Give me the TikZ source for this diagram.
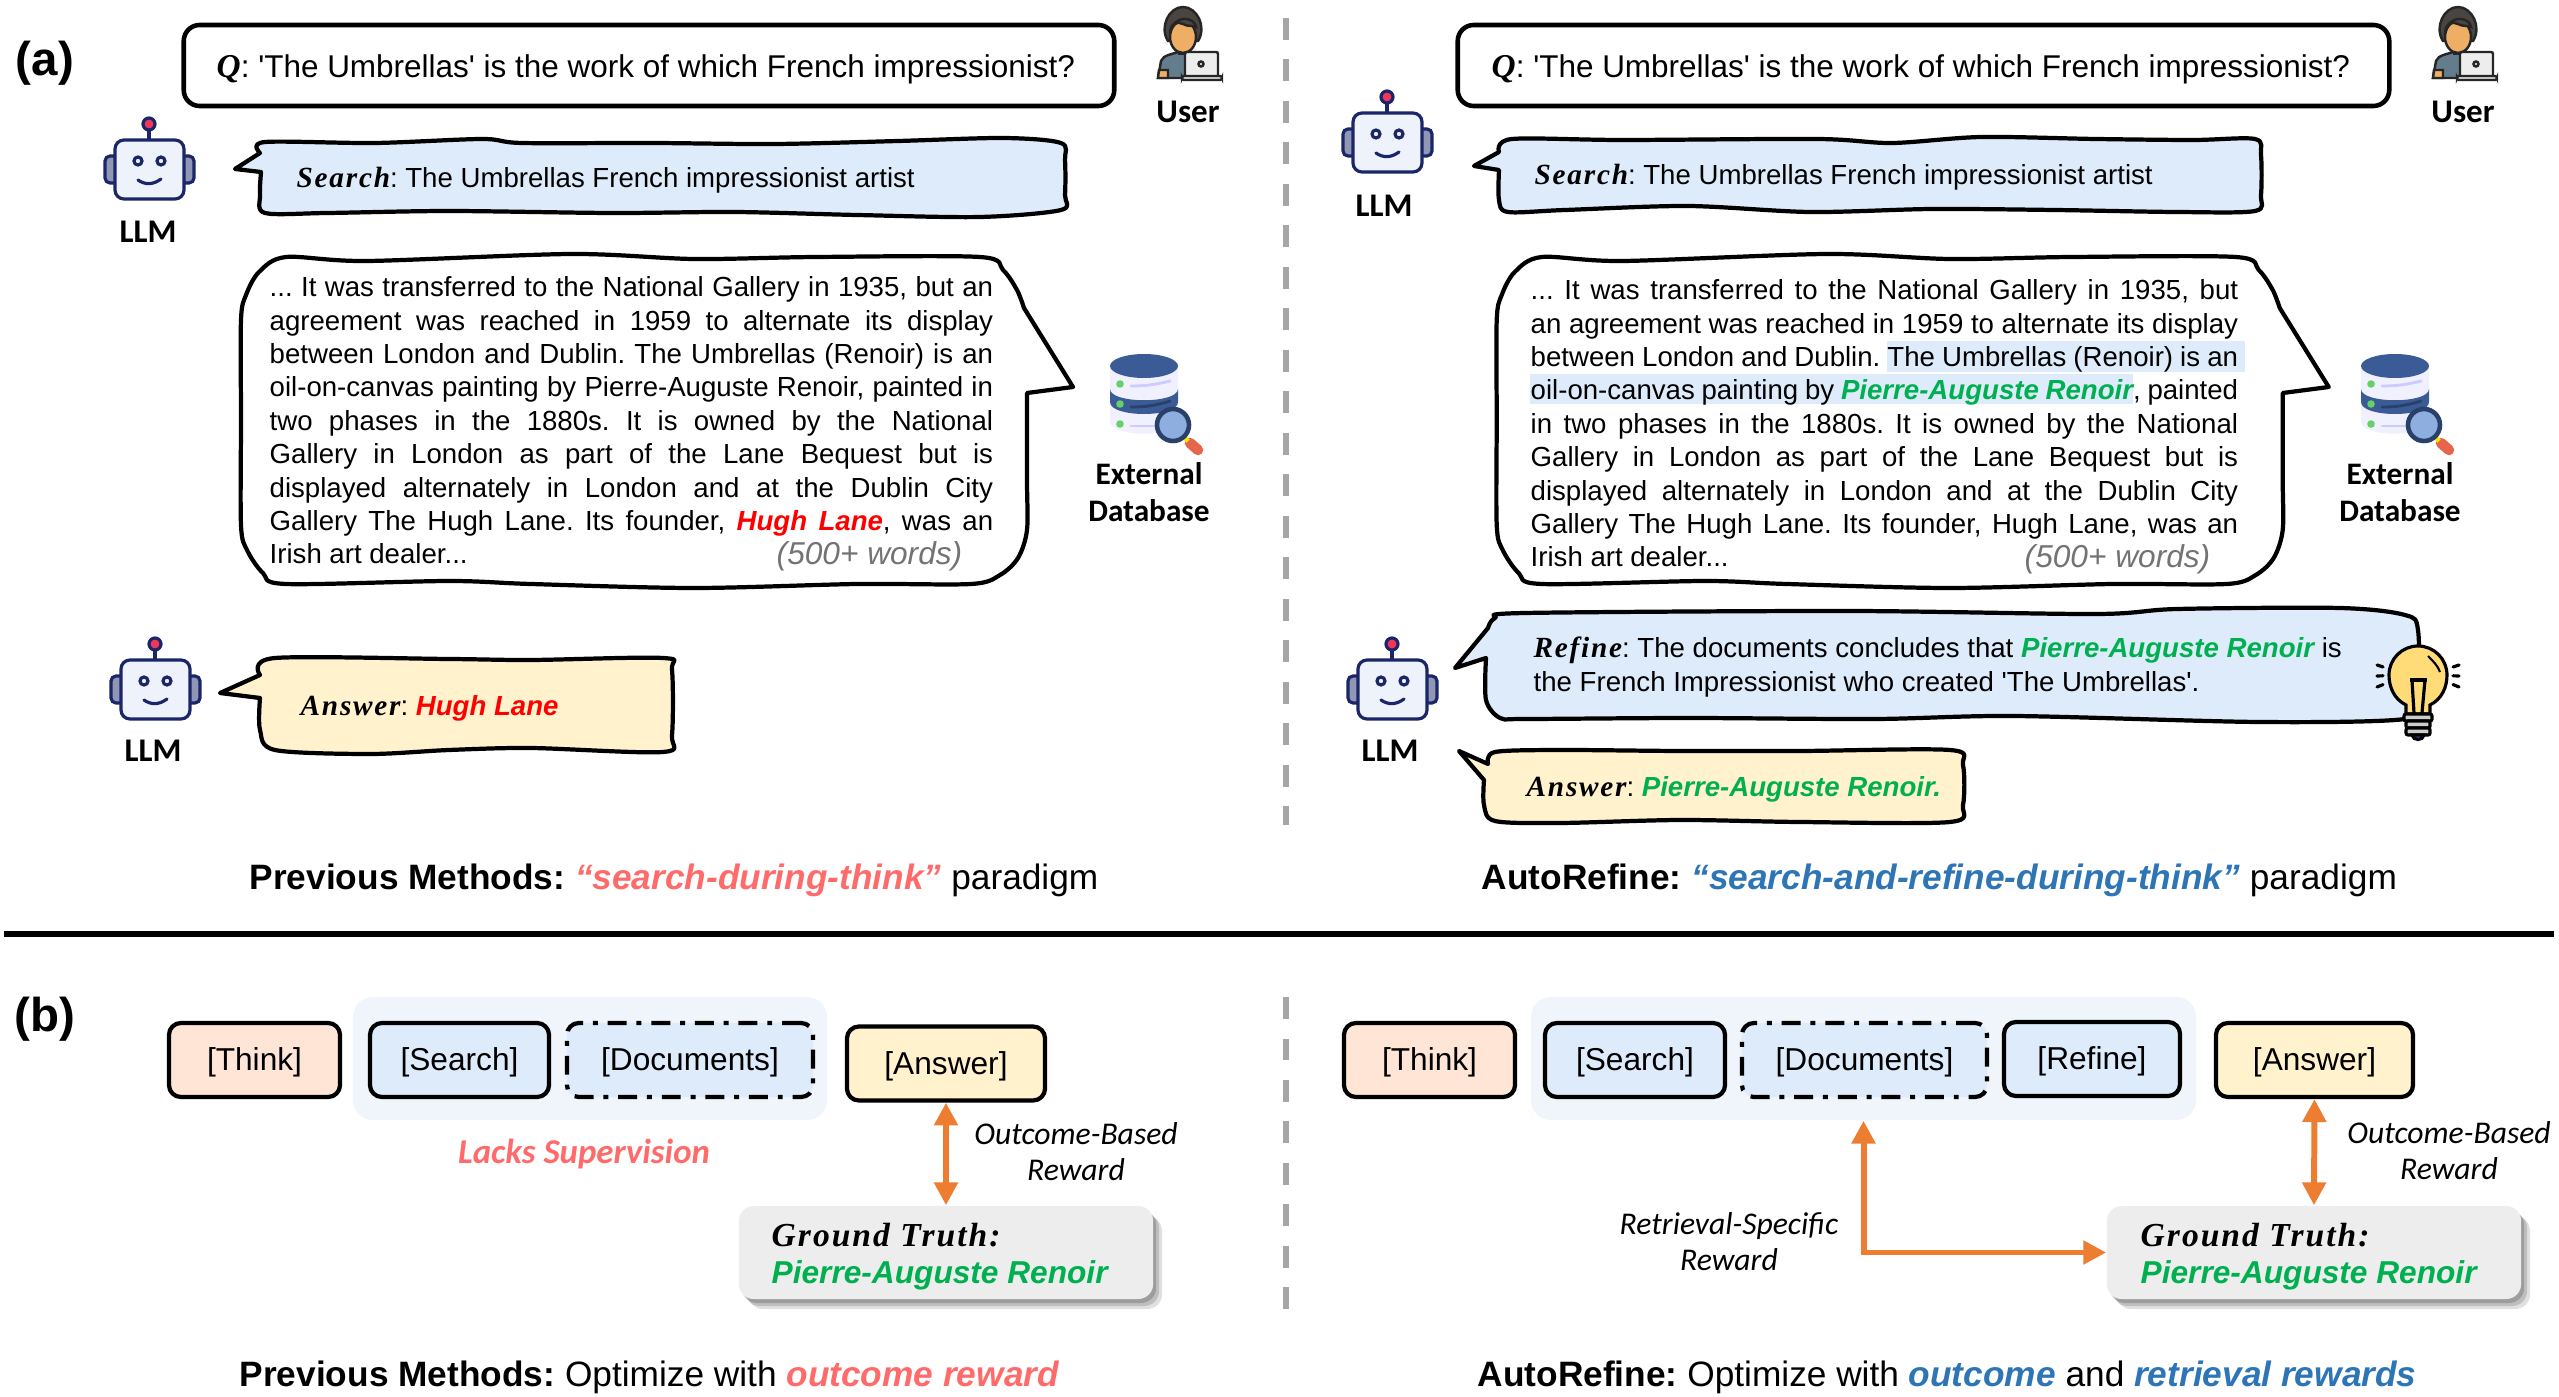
\documentclass[tikz,border=0pt]{standalone}
\usepackage{fontspec}
\usepackage{tikz}
\usetikzlibrary{shapes, arrows.meta, positioning, calc, shadows}
\setmainfont{Liberation Sans}
\newfontfamily\kwfont[Scale=1.06, LetterSpace=6]{Liberation Serif}
\newfontfamily\iconfont{Carlito}
\definecolor{searchblue}{RGB}{222, 235, 250}
\definecolor{groupblue}{RGB}{240, 245, 251}
\definecolor{answeryellow}{RGB}{255, 242, 204}
\definecolor{thinkpeach}{RGB}{255, 229, 214}
\definecolor{truthgray}{RGB}{237, 237, 237}
\definecolor{rewardorange}{RGB}{237, 125, 49}
\definecolor{softred}{RGB}{255, 107, 107}
\definecolor{paperblue}{RGB}{46, 117, 182}
\definecolor{rightgreen}{RGB}{0, 176, 80}
\definecolor{robotnavy}{RGB}{27, 38, 105}
\definecolor{robotear}{RGB}{143, 151, 181}
\definecolor{robotface}{RGB}{238, 242, 251}
\definecolor{robotred}{RGB}{240, 54, 90}
\definecolor{dbnavy}{RGB}{58, 91, 150}
\definecolor{userhair}{RGB}{74, 69, 64}
\definecolor{userskin}{RGB}{239, 174, 102}
\definecolor{usershirt}{RGB}{100, 125, 140}
\definecolor{bulbyellow}{RGB}{255, 220, 120}
\tikzset{
  >=Stealth,
  bubble/.style={draw=black, line width=1.2pt, line join=round},
  tagbox/.style={draw=black, line width=1.2pt, rounded corners=1.2mm, minimum height=0.74cm, inner sep=0pt, text height=0.8em, text depth=0.2em, font=\fontsize{9}{10}\selectfont},
  dashbox/.style={tagbox, fill=searchblue, dash pattern=on 5.4pt off 2.8pt on 1.4pt off 2.8pt},
  groupbox/.style={fill=groupblue, rounded corners=2mm, minimum height=1.23cm, inner sep=0pt},
  truthbox/.style={fill=truthgray, rounded corners=1.5mm, minimum width=4.14cm, minimum height=0.93cm, inner sep=0pt,
    drop shadow={shadow xshift=0.09cm, shadow yshift=-0.10cm, fill=black, opacity=0.12},
    drop shadow={shadow xshift=0.06cm, shadow yshift=-0.07cm, fill=black, opacity=0.15},
    drop shadow={shadow xshift=0.03cm, shadow yshift=-0.04cm, fill=black, opacity=0.18}},
  rewardarrow/.style={line width=1.7pt, rewardorange, {Triangle[length=6.5pt, width=6.5pt]}-{Triangle[length=6.5pt, width=6.5pt]}},
  plain/.style={inner sep=0pt, text height=0.85em, text depth=0.2em},
  bodytext/.style={plain, anchor=west, font=\fontsize{7.85}{9.5}\selectfont},
  qtext/.style={plain, anchor=west, font=\fontsize{8.95}{10}\selectfont},
  titletext/.style={plain, anchor=west, font=\fontsize{10.03}{11}\selectfont},
  iconlabel/.style={inner sep=0pt, align=center, font=\iconfont\bfseries\fontsize{9.4}{10.6}\selectfont},
  dblabel/.style={iconlabel, font=\iconfont\bfseries\fontsize{8.9}{10.6}\selectfont},
  rewardlabel/.style={inner sep=0pt, align=center, font=\iconfont\itshape\fontsize{9}{10.3}\selectfont},
  truthtext/.style={plain, anchor=west, font=\fontsize{9}{10}\selectfont}
}
\frenchspacing
\newcommand{\kw}[1]{{\kwfont\bfseries\itshape #1}}
\newcommand{\goodname}[1]{\textcolor{rightgreen}{\bfseries\itshape #1}}
\newcommand{\badname}[1]{\textcolor{red}{\bfseries\itshape #1}}
\newlength{\doclinewidth}
\newcommand{\jline}[1]{\makebox[\doclinewidth][s]{#1}}
% icons, drawn around their centre
\newcommand{\llmicon}[2]{
  \begin{scope}[shift={(#1,#2)}, line width=0.9pt, draw=robotnavy]
    \draw[fill=robotear, rounded corners=0.05cm] (-44,-14) rectangle (-30,13);
    \draw[fill=robotear, rounded corners=0.05cm] (31,-14) rectangle (45,13);
    \draw (0,-30) -- (0,-40);
    \draw[fill=robotred] (0,-46) circle (6);
    \draw[fill=robotface, rounded corners=0.09cm] (-34,-30) rectangle (35,29);
    \draw[fill=robotface] (-11,-9) circle (4);
    \draw[fill=robotface] (12,-9) circle (4);
    \draw[line cap=round] (-11,10) .. controls (-4,15) and (4,15) .. (12,9);
  \end{scope}
}
\newcommand{\usericon}[2]{
  \begin{scope}[shift={(#1,#2)}, line width=0.7pt, draw=black!85]
    \draw[fill=userhair] (-15,4) .. controls (-24,-10) and (-14,-30) .. (0,-30) .. controls (14,-30) and (24,-10) .. (15,4) -- cycle;
    \draw[fill=usershirt] (-25,41) -- (-22,24) .. controls (-20,18) and (-10,17) .. (-5,15) -- (7,15) -- (7,41) -- cycle;
    \draw[fill=userskin] (-4,8) -- (-4,17) -- (5,17) -- (5,8) -- cycle;
    \draw[fill=userskin] (0,0) ellipse (13 and 16);
    \draw[fill=userhair] (-13,-3) .. controls (-13,-14) and (-6,-16) .. (0,-13) .. controls (5,-10) and (9,-12) .. (13,-10) .. controls (12,-20) and (-10,-24) .. (-13,-3) -- cycle;
    \draw[fill=userskin] (-25,41) -- (-24,33) -- (-15,33) -- (-15,41) -- cycle;
    \draw[fill=black!7, rounded corners=0.02cm] (2,15) rectangle (35,40);
    \draw[fill=black!7] (18,27) circle (2.5);
    \draw[fill=black!15, rounded corners=0.02cm] (-1,39) rectangle (39,43);
  \end{scope}
}
\newcommand{\dbicon}[2]{
  \begin{scope}[shift={(#1,#2)}]
    \fill[blue!6] (-34,0) -- (-34,55) .. controls (-34,72) and (34,72) .. (34,55) -- (34,0) -- cycle;
    \fill[dbnavy] (-34,23) .. controls (-34,38) and (34,38) .. (34,23) -- (34,36) .. controls (34,52) and (-34,52) .. (-34,36) -- cycle;
    \fill[dbnavy] (0,0) ellipse (34 and 12);
    \foreach \dy in {18,38,58} \fill[green!70!black!60] (-24,\dy) circle (3.8);
    \draw[line width=0.8pt, blue!20, line cap=round] (-13,20) .. controls (0,20) and (10,19) .. (26,15);
    \draw[line width=0.8pt, dbnavy!70!black, line cap=round] (-13,41) .. controls (0,41) and (10,40) .. (26,35);
    \draw[line width=0.8pt, blue!20, line cap=round] (-13,60) -- (12,60);
    \draw[line width=3pt, red!50!brown!80, line cap=round] (46,77) -- (54,84);
    \draw[line width=1.3pt, yellow!90!orange] (40,71) -- (44,75);
    \draw[line width=1.3pt, dbnavy!70!black, fill=cyan!50!blue!45] (29,59) circle (16);
  \end{scope}
}
\newcommand{\bulbicon}[2]{
  \begin{scope}[shift={(#1,#2)}, line width=0.9pt]
    \foreach \ry in {-10,1,12} {
      \draw[line cap=round] (-41,\ry) -- (-35,{\ry*0.8});
      \draw[line cap=round] (41,\ry) -- (35,{\ry*0.8});
    }
    \draw[fill=bulbyellow] (-12,39) -- (-12,30) .. controls (-24,24) and (-29,12) .. (-29,0) .. controls (-29,-16) and (-16,-29) .. (0,-29) .. controls (16,-29) and (29,-16) .. (29,0) .. controls (29,12) and (24,24) .. (12,30) -- (12,39) -- cycle;
    \draw (-8,5) -- (9,5);
    \draw (-6,5) -- (-4,38);
    \draw (7,5) -- (4,38);
    \draw[line width=0.6pt] (10,-19) .. controls (15,-14) and (20,-9) .. (22,-3);
    \draw[fill=black!20, rounded corners=0.02cm] (-14,39) rectangle (14,46);
    \draw[fill=black!20, rounded corners=0.02cm] (-12,46) rectangle (12,53);
    \draw[fill=black!20, rounded corners=0.02cm] (-12,53) rectangle (12,60);
    \draw[fill=blue!40!gray] (-6,60) .. controls (-5,66) and (5,66) .. (6,60) -- cycle;
  \end{scope}
}
\newcommand{\docbubble}[1]{
  \begin{scope}[xshift=#1cm]
    \draw[bubble, fill=white] plot[smooth, tension=0.5] coordinates {(1027,393) (1027,480) (1027,530) (1018,558) (1000,575) (971,584) (857,584) (694,588) (531,584) (449,581) (286,584) (263,573) (247,550) (241,525) (241,420) (241,320) (246,295) (259,272) (286,257) (367,261) (571,254) (694,259) (816,257) (980,257) (1003,270) (1017,290) (1024,308)} -- (1073,387) -- cycle;
  \end{scope}
}

\begin{document}
\begin{tikzpicture}[x=0.01cm, y=-0.01cm]
    \useasboundingbox (0,0) rectangle (2559,1397);

    % panel labels and separators
    \node (panela) [inner sep=0pt, font=\bfseries\fontsize{13.5}{15}\selectfont] at (45,63) {(a)};
    \node (panelb) [inner sep=0pt, font=\bfseries\fontsize{13.5}{15}\selectfont] at (45,1019) {(b)};
    \draw[line width=1.5pt] (4,934) -- (2554,934);
    \draw[line width=1.7pt, black!35, dash pattern=on 6.2pt off 5.6pt] (1286,18) -- (1286,825);
    \draw[line width=1.7pt, black!35, dash pattern=on 6.2pt off 5.6pt] (1286,997) -- (1286,1310);

    % question boxes
    \node (questl) [draw=black, line width=1.3pt, rounded corners=1.6mm, minimum width=9.3cm, minimum height=0.81cm] at (649,65.5) {};
    \node (questr) [draw=black, line width=1.3pt, rounded corners=1.6mm, minimum width=9.31cm, minimum height=0.81cm] at (1923.5,65.5) {};
    \node (qtextl) [qtext] at (216,66) {\kw{Q}: \textquotesingle The Umbrellas\textquotesingle{} is the work of which French impressionist?};
    \node (qtextr) [qtext] at (1491,66) {\kw{Q}: \textquotesingle The Umbrellas\textquotesingle{} is the work of which French impressionist?};

    % search bubbles
    \draw[bubble, fill=searchblue] plot[smooth, tension=0.5] coordinates {(261,172) (260,195) (265,213) (327,213) (449,211) (612,213) (735,212) (857,215) (980,217) (1061,210) (1065,195) (1065,160) (1061,143) (1004,138) (898,141) (775,144) (653,143) (522,143) (482,139) (375,143) (265,142) (260,153)} -- (235,169) -- cycle;
    \draw[bubble, fill=searchblue] plot[smooth, tension=0.5] coordinates {(1499,170) (1499,200) (1508,212) (1565,210) (1688,206) (1810,212) (1932,209) (2055,210) (2177,212) (2255,211) (2261,195) (2261,155) (2255,139) (2193,140) (2096,139) (1981,137) (1892,143) (1818,139) (1623,140) (1512,139) (1499,152)} -- (1474,166) -- cycle;
    \node (searchl) [bodytext] at (296,176.5) {\kw{Search}: The Umbrellas French impressionist artist};
    \node (searchr) [bodytext] at (1534,173.5) {\kw{Search}: The Umbrellas French impressionist artist};

    % retrieved documents
    \docbubble{0}
    \docbubble{12.55}
    \fill[searchblue] (1887,341) rectangle (2245,372);
    \fill[searchblue] (1530,374) rectangle (2133,404);
    \setlength{\doclinewidth}{7.23cm}
    \node (docl) [bodytext, anchor=north west, align=left, text height=, text depth=] at (269,276) {%
      \jline{... It was transferred to the National Gallery in 1935, but an}\\
      \jline{agreement was reached in 1959 to alternate its display}\\
      \jline{between London and Dublin. The Umbrellas (Renoir) is an}\\
      \jline{oil-on-canvas painting by Pierre-Auguste Renoir, painted in}\\
      \jline{two phases in the 1880s. It is owned by the National}\\
      \jline{Gallery in London as part of the Lane Bequest but is}\\
      \jline{displayed alternately in London and at the Dublin City}\\
      \jline{Gallery The Hugh Lane. Its founder, \badname{Hugh Lane}, was an}\\
      Irish art dealer...};
    \node (wordsl) [plain, anchor=east, text=black!55, font=\itshape\fontsize{9}{10}\selectfont] at (963,553) {(500+ words)};
    \setlength{\doclinewidth}{7.07cm}
    \node (docr) [bodytext, anchor=north west, align=left, text height=, text depth=] at (1530,279) {%
      \jline{... It was transferred to the National Gallery in 1935, but}\\
      \jline{an agreement was reached in 1959 to alternate its display}\\
      \jline{between London and Dublin. The Umbrellas (Renoir) is an}\\
      \jline{oil-on-canvas painting by \goodname{Pierre-Auguste Renoir}, painted}\\
      \jline{in two phases in the 1880s. It is owned by the National}\\
      \jline{Gallery in London as part of the Lane Bequest but is}\\
      \jline{displayed alternately in London and at the Dublin City}\\
      \jline{Gallery The Hugh Lane. Its founder, Hugh Lane, was an}\\
      Irish art dealer...};
    \node (wordsr) [plain, anchor=east, text=black!55, font=\itshape\fontsize{9}{10}\selectfont] at (2211,556) {(500+ words)};

    % answer and refine bubbles
    \draw[bubble, fill=answeryellow] plot[smooth, tension=0.5] coordinates {(260,698) (260,730) (275,750) (370,754) (449,750) (531,748) (663,752) (672,735) (672,670) (663,658) (531,660) (449,659) (275,658) (260,675)} -- (220,693) -- cycle;
    \node (answerl) [bodytext] at (300,704.5) {\kw{Answer}: \badname{Hugh Lane}};
    \draw[bubble, fill=searchblue] plot[smooth, tension=0.5] coordinates {(1486,658) (1486,700) (1500,718) (1525,719) (1688,718) (1875,719) (2014,716) (2259,722) (2405,719) (2418,700) (2418,630) (2405,615) (2340,608) (2177,609) (2096,614) (1850,611) (1525,613) (1495,618) (1488,628)} -- (1455,668) -- cycle;
    \node (refiner) [bodytext, anchor=west, text height=, text depth=, align=left, font=\fontsize{7.85}{9.6}\selectfont] at (1533,667) {\kw{Refine}: The documents concludes that \goodname{Pierre-Auguste Renoir} is\\the French Impressionist who created \textquotesingle The Umbrellas\textquotesingle.};
    \bulbicon{2418}{675}
    \draw[bubble, fill=answeryellow] plot[smooth, tension=0.5] coordinates {(1484,780) (1484,805) (1495,821) (1560,823) (1680,820) (1800,822) (1950,822) (1963,805) (1963,765) (1950,750) (1800,751) (1680,751) (1560,750) (1495,752) (1488,764)} -- (1459,751) -- cycle;
    \node (answerr) [bodytext] at (1526,785.5) {\kw{Answer}: \goodname{Pierre-Auguste Renoir.}};

    % icons
    \llmicon{149}{170}
    \llmicon{1387}{143}
    \llmicon{155}{690}
    \llmicon{1392}{690}
    \usericon{1183}{37}
    \usericon{2458}{37}
    \dbicon{1144}{366}
    \dbicon{2395}{366}
    \node (llmla) [iconlabel] at (148,232) {LLM};
    \node (llmra) [iconlabel] at (1384,205.5) {LLM};
    \node (llmlb) [iconlabel] at (153,751) {LLM};
    \node (llmrb) [iconlabel] at (1390,751) {LLM};
    \node (userl) [iconlabel] at (1188,112) {User};
    \node (userr) [iconlabel] at (2463,112) {User};
    \node (dbl) [dblabel] at (1149,492) {External\\Database};
    \node (dbr) [dblabel] at (2400,492) {External\\Database};

    % captions of panel (a)
    \node (captal) [titletext] at (249,878) {\textbf{Previous Methods: }\textcolor{softred}{\bfseries\itshape “search-during-think”} paradigm};
    \node (captar) [titletext] at (1481,878) {\textbf{AutoRefine: }\textcolor{paperblue}{\bfseries\itshape “search-and-refine-during-think”} paradigm};

    % token rows of panel (b)
    \node (groupl) [groupbox, minimum width=4.74cm] at (590,1058.5) {};
    \node (groupr) [groupbox, minimum width=6.65cm] at (1863.5,1058.5) {};
    \node (thinkl) [tagbox, fill=thinkpeach, minimum width=1.71cm] at (254.5,1060) {[Think]};
    \node (searchbl) [tagbox, fill=searchblue, minimum width=1.79cm] at (459.5,1060) {[Search]};
    \node (docsbl) [dashbox, minimum width=2.46cm] at (690,1060) {[Documents]};
    \node (answerbl) [tagbox, fill=answeryellow, minimum width=1.98cm] at (946,1063.5) {[Answer]};
    \node (thinkr) [tagbox, fill=thinkpeach, minimum width=1.71cm] at (1429.5,1060) {[Think]};
    \node (searchbr) [tagbox, fill=searchblue, minimum width=1.80cm] at (1635,1060) {[Search]};
    \node (docsbr) [dashbox, minimum width=2.45cm] at (1864.5,1060) {[Documents]};
    \node (refinebr) [tagbox, fill=searchblue, minimum width=1.76cm] at (2092,1059) {[Refine]};
    \node (answerbr) [tagbox, fill=answeryellow, minimum width=1.97cm] at (2314.5,1060) {[Answer]};

    \node (lacks) [inner sep=0pt, text=softred, font=\iconfont\bfseries\itshape\fontsize{9.9}{11}\selectfont] at (584,1154) {Lacks Supervision};

    % ground truth
    \node (truthl) [truthbox] at (946,1252.5) {};
    \node (truthr) [truthbox] at (2314,1252.5) {};
    \node (truthlt) [truthtext] at (771,1235) {\kw{Ground Truth:}};
    \node (truthlv) [truthtext] at (771,1272) {\goodname{Pierre-Auguste Renoir}};
    \node (truthrt) [truthtext] at (2140,1235) {\kw{Ground Truth:}};
    \node (truthrv) [truthtext] at (2140,1272) {\goodname{Pierre-Auguste Renoir}};

    \draw[rewardarrow] (answerbl.south) -- (truthl.north);
    \draw[rewardarrow] (answerbr.south) -- (truthr.north);
    \draw[rewardarrow] (groupr.south) |- (truthr.west);
    \node (rewardl) [rewardlabel] at (1076,1152) {Outcome-Based\\Reward};
    \node (rewardr) [rewardlabel] at (2449,1151) {Outcome-Based\\Reward};
    \node (rewardm) [rewardlabel] at (1729,1242) {Retrieval-Specific\\Reward};

    % captions of panel (b)
    \node (captbl) [titletext] at (239,1375) {\textbf{Previous Methods: }Optimize with \textcolor{softred}{\bfseries\itshape outcome reward}};
    \node (captbr) [titletext] at (1477,1375) {\textbf{AutoRefine: }Optimize with \textcolor{paperblue}{\bfseries\itshape outcome} and \textcolor{paperblue}{\bfseries\itshape retrieval rewards}};
\end{tikzpicture}
\end{document}
